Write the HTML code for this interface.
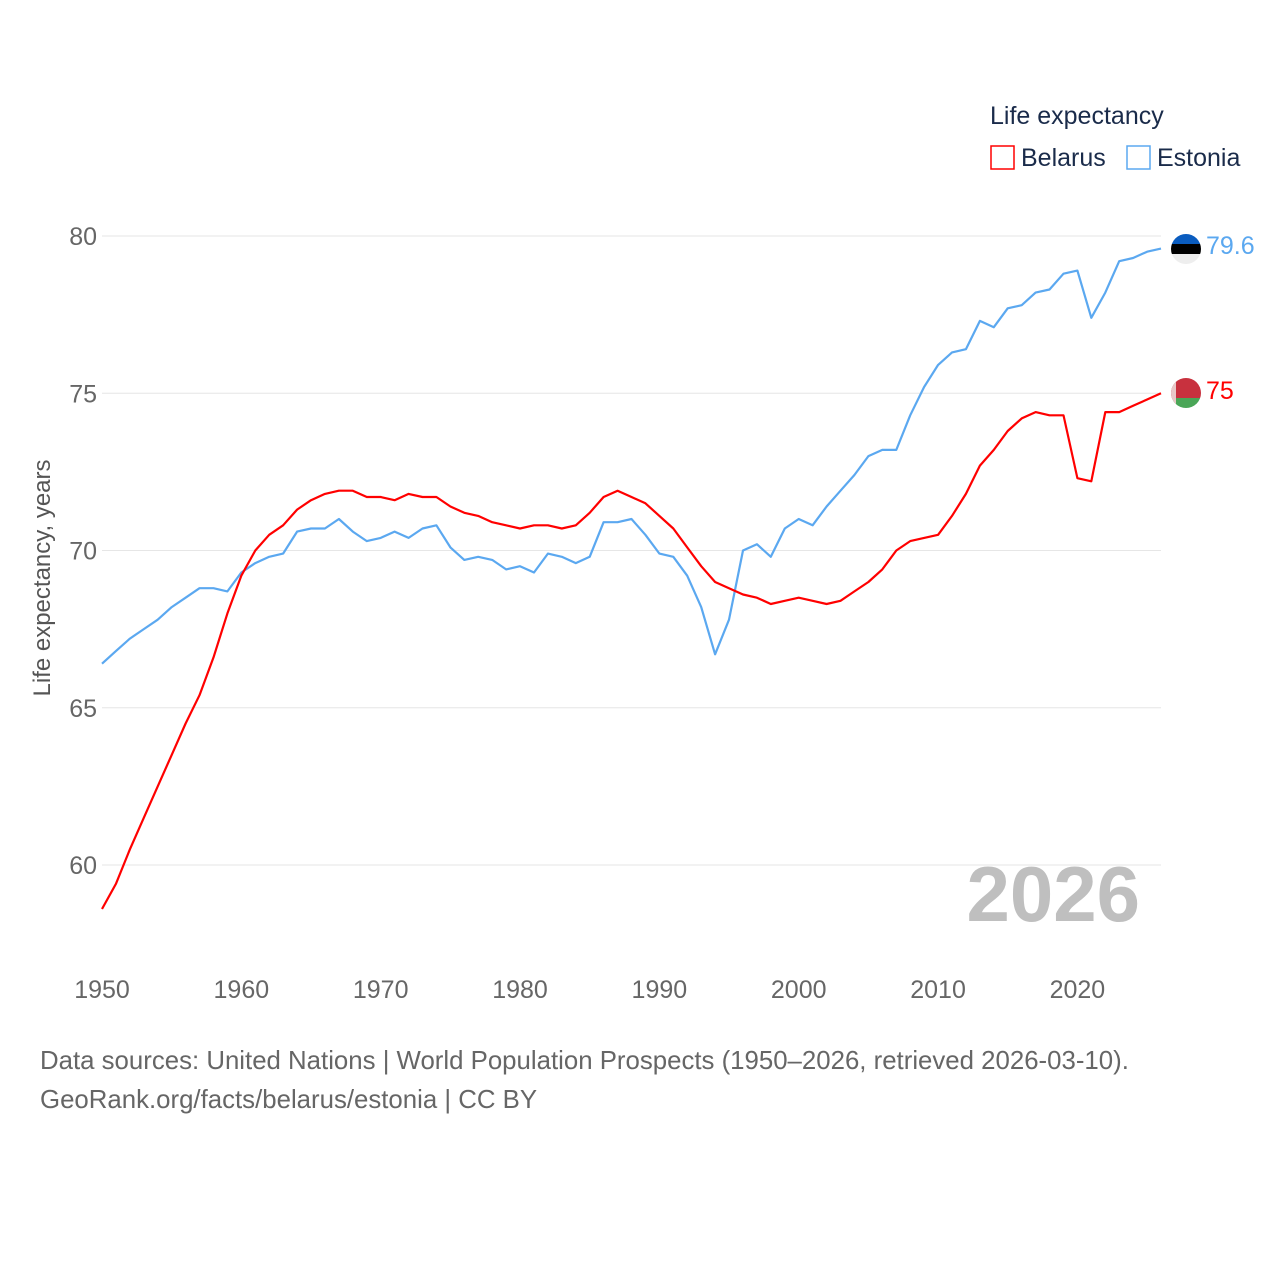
<!DOCTYPE html>
<html><head><meta charset="utf-8"><style>
body{margin:0;background:#fff;width:1280px;height:1280px;overflow:hidden;font-family:"Liberation Sans",sans-serif}
</style></head><body>
<svg width="1280" height="1280" xmlns="http://www.w3.org/2000/svg">
<defs>
<clipPath id="cE"><circle cx="1186" cy="249" r="15"/></clipPath>
<clipPath id="cB"><circle cx="1186" cy="393" r="15"/></clipPath>
</defs>
<g id="grid"></g>
<g id="lines"></g>
<text x="1140" y="921" text-anchor="end" font-size="78" font-weight="bold" fill="#bfbfbf">2026</text>
<text transform="translate(50,578) rotate(-90)" text-anchor="middle" font-size="24" fill="#555">Life expectancy, years</text>
<text x="990" y="124" font-size="25" fill="#1a2b4a">Life expectancy</text>
<g><rect x="991" y="146" width="23" height="23" fill="none" stroke="#ff0000" stroke-width="1.5"/><text x="1021" y="166" font-size="25" fill="#1a2b4a">Belarus</text></g>
<g><rect x="1127" y="146" width="23" height="23" fill="none" stroke="#5ba8f0" stroke-width="1.5"/><text x="1157" y="166" font-size="25" fill="#1a2b4a">Estonia</text></g>
<g clip-path="url(#cE)"><rect x="1170" y="233" width="32" height="11" fill="#0a5cbf"/><rect x="1170" y="244" width="32" height="10" fill="#000"/><rect x="1170" y="254" width="32" height="11" fill="#eee"/></g>
<g clip-path="url(#cB)"><rect x="1170" y="377" width="32" height="21" fill="#c8313e"/><rect x="1170" y="398" width="32" height="12" fill="#4aa657"/><rect x="1170" y="377" width="6" height="33" fill="#e8c8c8"/></g>
<text x="1206" y="254" font-size="25" fill="#5ba8f0">79.6</text>
<text x="1206" y="399" font-size="25" fill="#ff0000">75</text>
<text x="40" y="1069" font-size="25.8" fill="#666">Data sources: United Nations | World Population Prospects (1950–2026, retrieved 2026-03-10).</text>
<text x="40" y="1108" font-size="25.8" fill="#666">GeoRank.org/facts/belarus/estonia | CC BY</text>
</svg>
<script>
const years=[];for(let y=1950;y<=2026;y++)years.push(y);
const belarus=[58.6,59.4,60.5,61.5,62.5,63.5,64.5,65.4,66.6,68.0,69.2,70.0,70.5,70.8,71.3,71.6,71.8,71.9,71.9,71.7,71.7,71.6,71.8,71.7,71.7,71.4,71.2,71.1,70.9,70.8,70.7,70.8,70.8,70.7,70.8,71.2,71.7,71.9,71.7,71.5,71.1,70.7,70.1,69.5,69.0,68.8,68.6,68.5,68.3,68.4,68.5,68.4,68.3,68.4,68.7,69.0,69.4,70.0,70.3,70.4,70.5,71.1,71.8,72.7,73.2,73.8,74.2,74.4,74.3,74.3,72.3,72.2,74.4,74.4,74.6,74.8,75.0];
const estonia=[66.4,66.8,67.2,67.5,67.8,68.2,68.5,68.8,68.8,68.7,69.3,69.6,69.8,69.9,70.6,70.7,70.7,71.0,70.6,70.3,70.4,70.6,70.4,70.7,70.8,70.1,69.7,69.8,69.7,69.4,69.5,69.3,69.9,69.8,69.6,69.8,70.9,70.9,71.0,70.5,69.9,69.8,69.2,68.2,66.7,67.8,70.0,70.2,69.8,70.7,71.0,70.8,71.4,71.9,72.4,73.0,73.2,73.2,74.3,75.2,75.9,76.3,76.4,77.3,77.1,77.7,77.8,78.2,78.3,78.8,78.9,77.4,78.2,79.2,79.3,79.5,79.6];
const yTicks=[60,65,70,75,80];
const xTicks=[1950,1960,1970,1980,1990,2000,2010,2020];
const NS="http://www.w3.org/2000/svg";
const xs=y=>102+(y-1950)*(1161-102)/76;
const ys=v=>865-(v-60)*(865-236)/20;
const grid=document.getElementById('grid'),lines=document.getElementById('lines');
yTicks.forEach(t=>{
 const l=document.createElementNS(NS,'line');
 l.setAttribute('x1',102);l.setAttribute('x2',1161);l.setAttribute('y1',ys(t));l.setAttribute('y2',ys(t));
 l.setAttribute('stroke','#e6e6e6');l.setAttribute('stroke-width','1');
 
 
 grid.appendChild(l);
 const tx=document.createElementNS(NS,'text');
 tx.setAttribute('x',97);tx.setAttribute('y',ys(t)+9);tx.setAttribute('text-anchor','end');
 tx.setAttribute('font-size','25');tx.setAttribute('fill','#666');tx.textContent=t;
 
 
 grid.appendChild(tx);
});
xTicks.forEach(t=>{
 const tx=document.createElementNS(NS,'text');
 tx.setAttribute('x',xs(t));tx.setAttribute('y',998);tx.setAttribute('text-anchor','middle');
 tx.setAttribute('font-size','25');tx.setAttribute('fill','#666');tx.textContent=t;
 
 
 grid.appendChild(tx);
});
function draw(arr,color,name){
 const p=document.createElementNS(NS,'path');
 p.setAttribute('d',arr.map((v,i)=>(i?'L':'M')+xs(years[i]).toFixed(1)+','+ys(v).toFixed(1)).join(''));
 p.setAttribute('fill','none');p.setAttribute('stroke',color);p.setAttribute('stroke-width','2.2');p.setAttribute('stroke-linejoin','round');
 
 
 lines.appendChild(p);
}
draw(estonia,'#5ba8f0','estonia-line');
draw(belarus,'#ff0000','belarus-line');
</script>
</body></html>
